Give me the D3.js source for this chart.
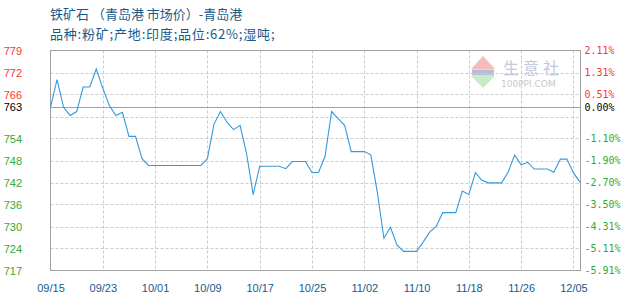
<!DOCTYPE html>
<html>
<head>
<meta charset="utf-8">
<script src="https://cdn.jsdelivr.net/npm/d3@7"></script>
<style>
  html, body { margin: 0; padding: 0; background: #fff; }
  #price_chart { width: 630px; height: 300px; }
</style>
</head>
<body>
<div id="price_chart"></div>
<script>
// ===== データ =====
const titleText = '铁矿石 （青岛港 市场价）-青岛港';
const subtitleText = '品种:粉矿;产地:印度;品位:62%;湿吨;';

const baseValue = 763;

// 日次の価格（09/15 → 12/06）
const prices = [
  763, 770.8, 763, 760.7, 761.8, 768.7, 768.7, 773.8, 768.4, 763.5,
  760.7, 761.6, 754.8, 754.8, 748.5, 746.6, 746.6, 746.6, 746.6, 746.6,
  746.6, 746.6, 746.6, 746.6, 748.5, 758.2, 761.8, 758.8, 756.7, 757.9,
  749.9, 738.4, 746.4, 746.4, 746.4, 746.4, 745.7, 747.7, 747.7, 747.7,
  744.6, 744.6, 749.2, 761.8, 759.8, 757.9, 750.5, 750.5, 750.5, 749.6,
  739, 726.1, 729.2, 724.2, 722.4, 722.4, 722.4, 725, 727.8, 729.4,
  733.3, 733.3, 733.3, 739.4, 738.4, 744.6, 742.4, 741.7, 741.7, 741.7,
  744.7, 749.5, 746.8, 747.5, 745.6, 745.6, 745.6, 744.7, 748.4, 748.4,
  744.5, 741.9
];

const xTickIndex = [0, 8, 16, 24, 32, 40, 48, 56, 64, 72, 80];
const xTickLabels = ['09/15', '09/23', '10/01', '10/09', '10/17', '10/25', '11/02', '11/10', '11/18', '11/26', '12/05'];

const gridValues = [779, 772.8, 766.6, 760.4, 754.2, 748, 741.8, 735.6, 729.4, 723.2, 717];
const tickValues = [779, 772.8, 766.6, 763, 754.2, 748, 741.8, 735.6, 729.4, 723.2, 717];
const leftLabels = ['779', '772', '766', '763', '754', '748', '742', '736', '730', '724', '717'];
const rightLabels = ['2.11%', '1.31%', '0.51%', '0.00%', '-1.10%', '-1.90%', '-2.70%', '-3.50%', '-4.31%', '-5.11%', '-5.91%'];

(function () {
    // ===== 設定 =====
    const W = 630, H = 300;
    const LEFT = 50.5, RIGHT = 580.5, TOP = 50.5, BOTTOM = 270.5;
    const BLUE_TEXT = '#175a8a';
    const RED = '#ff3333', GREEN = '#33aa33';
    const FRAME = '#a0a0a0';

    const svg = d3.select('#price_chart').append('svg')
        .attr('width', W)
        .attr('height', H);

    const x = d3.scaleLinear().domain([0, prices.length - 1]).range([LEFT, RIGHT - 0.5]);
    const y = d3.scaleLinear().domain([717, 779]).range([BOTTOM, TOP]);

    const labelColor = (i) => tickValues[i] > baseValue ? RED : (tickValues[i] < baseValue ? GREEN : '#000');

    // ---- タイトル ----
    svg.append('text')
        .attr('x', 50).attr('y', 19)
        .style('font-family', '"Noto Sans CJK SC", sans-serif')
        .style('font-size', '13px')
        .attr('fill', BLUE_TEXT)
        .text(titleText);

    svg.append('text')
        .attr('x', 50).attr('y', 39)
        .style('font-family', '"Noto Sans CJK SC", sans-serif')
        .style('font-size', '13px')
        .attr('letter-spacing', '0.8px')
        .attr('fill', BLUE_TEXT)
        .text(subtitleText);

    // ---- 透かし（生意社） ----
    const wm = svg.append('g').attr('transform', 'translate(471,55)');
    wm.append('path').attr('d', 'M12,1 L24,14 L0,14 Z').attr('fill', '#f5bcbc');
    wm.append('rect').attr('x', 1).attr('y', 14.5).attr('width', 22).attr('height', 6).attr('fill', '#b8bcd4');
    wm.append('path').attr('d', 'M0,21 L24,21 L12,33 Z').attr('fill', '#c8ecc8');
    wm.append('text')
        .attr('x', 32).attr('y', 19)
        .style('font-family', '"Noto Sans CJK SC", sans-serif')
        .style('font-size', '16px')
        .attr('letter-spacing', '4px')
        .attr('fill', '#c4c8dc')
        .text('生意社');
    wm.append('text')
        .attr('x', 30).attr('y', 32)
        .style('font-family', '"DejaVu Sans", sans-serif')
        .style('font-size', '9px')
        .attr('fill', '#c8c8c8')
        .text('100PPI.COM');

    // ---- グリッド ----
    const grid = svg.append('g');
    grid.selectAll('line.h')
        .data(gridValues.slice(1, -1))
        .join('line')
        .attr('x1', LEFT).attr('x2', RIGHT)
        .attr('y1', d => Math.round(y(d)) + 0.5)
        .attr('y2', d => Math.round(y(d)) + 0.5)
        .attr('stroke', '#cccccc')
        .attr('stroke-dasharray', '3,2');

    grid.selectAll('line.v')
        .data(xTickIndex.slice(1))
        .join('line')
        .attr('x1', d => Math.round(x(d)) + 0.5)
        .attr('x2', d => Math.round(x(d)) + 0.5)
        .attr('y1', TOP).attr('y2', BOTTOM)
        .attr('stroke', '#cccccc')
        .attr('stroke-dasharray', '3,2');

    // 基準線 (763)
    svg.append('line')
        .attr('x1', LEFT).attr('x2', RIGHT)
        .attr('y1', Math.round(y(baseValue)) + 0.5)
        .attr('y2', Math.round(y(baseValue)) + 0.5)
        .attr('stroke', FRAME);

    // 枠
    svg.append('rect')
        .attr('x', LEFT).attr('y', TOP)
        .attr('width', RIGHT - LEFT).attr('height', BOTTOM - TOP)
        .attr('fill', 'none')
        .attr('stroke', FRAME);

    // ---- 価格ライン ----
    const line = d3.line()
        .x((d, i) => x(i))
        .y(d => y(d));

    svg.append('path')
        .datum(prices)
        .attr('d', line)
        .attr('fill', 'none')
        .attr('stroke', '#3399dd')
        .attr('stroke-width', 1.1);

    // ---- 縦軸（左：価格） ----
    const leftAxis = svg.append('g')
        .attr('transform', 'translate(22,0)')
        .call(d3.axisLeft(y).tickValues(tickValues).tickSize(0).tickPadding(0)
            .tickFormat((d, i) => leftLabels[i]));
    leftAxis.select('.domain').remove();
    leftAxis.selectAll('text')
        .style('font-family', '"Liberation Sans", Arial, sans-serif')
        .style('font-size', '11px')
        .attr('fill', (d, i) => labelColor(i));

    // ---- 縦軸（右：騰落率） ----
    const rightAxis = svg.append('g')
        .attr('transform', `translate(${RIGHT + 4},0)`)
        .call(d3.axisRight(y).tickValues(tickValues).tickSize(0).tickPadding(0)
            .tickFormat((d, i) => rightLabels[i]));
    rightAxis.select('.domain').remove();
    rightAxis.selectAll('text')
        .style('font-family', '"DejaVu Sans Mono", monospace')
        .style('font-size', '10px')
        .attr('fill', (d, i) => labelColor(i));

    // ---- 横軸（日付） ----
    const xAxis = svg.append('g')
        .attr('transform', `translate(0,${BOTTOM})`)
        .call(d3.axisBottom(x).tickValues(xTickIndex).tickSize(0).tickPadding(14)
            .tickFormat((d, i) => xTickLabels[i]));
    xAxis.select('.domain').remove();
    xAxis.selectAll('text')
        .style('font-family', '"Liberation Sans", Arial, sans-serif')
        .style('font-size', '11px')
        .attr('fill', BLUE_TEXT);
})();
</script>
</body>
</html>
